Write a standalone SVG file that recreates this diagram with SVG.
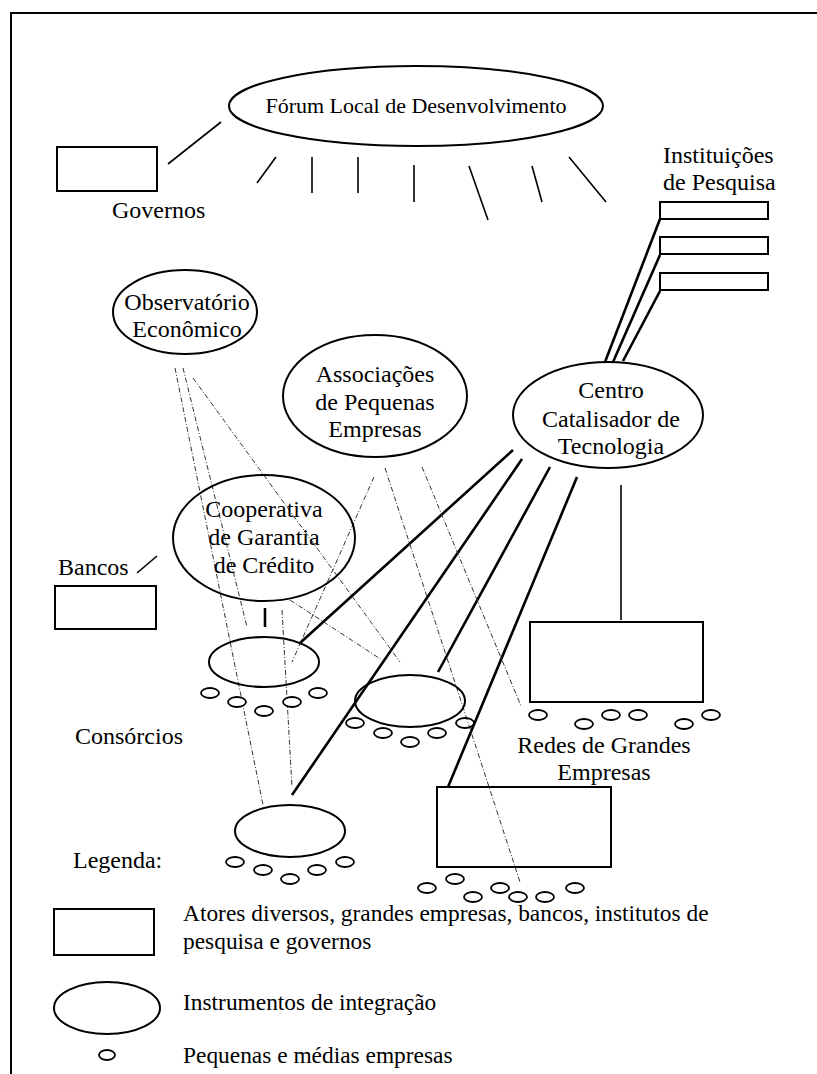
<svg xmlns="http://www.w3.org/2000/svg" width="817" height="1074" viewBox="0 0 817 1074" font-family="'Liberation Serif', Tinos, 'Times New Roman', 'DejaVu Serif', serif">
  <style>
    text { font-family: "Liberation Serif", Tinos, "Times New Roman", "DejaVu Serif", serif; font-size: 24px; fill: #000; }
    .mid { text-anchor: middle; }
    .legend { font-size: 23.4px; }
    .shape { fill: #fff; stroke: #000; stroke-width: 2; }
    .sme { fill: #fff; stroke: #000; stroke-width: 1.8; }
    .thin { stroke: #000; stroke-width: 1.6; fill: none; }
    .thick { stroke: #000; stroke-width: 2.6; fill: none; }
    .dash { stroke: #333; stroke-width: 1; fill: none; stroke-dasharray: 5 2 1 2; }
  </style>

  <rect x="0" y="0" width="817" height="1074" fill="#fff"/>
  <!-- page frame -->
  <path d="M11 1074 V13 H817" fill="none" stroke="#000" stroke-width="2"/>

  <!-- connectors -->
  <g id="connectors">
    <!-- forum spokes -->
    <line class="thin" x1="221" y1="122" x2="168" y2="164"/>
    <line class="thin" x1="276" y1="157" x2="257" y2="183"/>
    <line class="thin" x1="312" y1="157" x2="312" y2="193"/>
    <line class="thin" x1="358" y1="157" x2="358" y2="193"/>
    <line class="thin" x1="414" y1="165" x2="414" y2="202"/>
    <line class="thin" x1="469" y1="166" x2="488" y2="220"/>
    <line class="thin" x1="532" y1="166" x2="542" y2="202"/>
    <line class="thin" x1="569" y1="157" x2="606" y2="202"/>
    <!-- research institutions to technology centre -->
    <line class="thick" x1="660" y1="219" x2="605" y2="362"/>
    <line class="thick" x1="660" y1="255" x2="613" y2="362"/>
    <line class="thick" x1="660" y1="291" x2="623" y2="361"/>
    <!-- technology centre links -->
    <line class="thick" x1="513" y1="450" x2="300" y2="643"/>
    <line class="thick" x1="522" y1="459" x2="292" y2="795"/>
    <line class="thick" x1="550" y1="467" x2="438" y2="672"/>
    <line class="thick" x1="577" y1="477" x2="448" y2="787"/>
    <line class="thin" x1="621" y1="485" x2="621" y2="620"/>
    <!-- banks and cooperative -->
    <line class="thin" x1="137" y1="573" x2="157" y2="556"/>
    <line class="thick" x1="265" y1="608" x2="265" y2="627"/>
    <!-- observatory / association / cooperative dashed links -->
    <line class="dash" x1="175" y1="368" x2="263" y2="805"/>
    <line class="dash" x1="183" y1="368" x2="247" y2="627"/>
    <line class="dash" x1="193" y1="378" x2="400" y2="662"/>
    <line class="dash" x1="282" y1="610" x2="292" y2="787"/>
    <line class="dash" x1="290" y1="600" x2="382" y2="660"/>
    <line class="dash" x1="374" y1="477" x2="292" y2="662"/>
    <line class="dash" x1="385" y1="468" x2="520" y2="882"/>
    <line class="dash" x1="422" y1="467" x2="521" y2="706"/>
  </g>

  <g id="forum">
    <ellipse class="shape" cx="416" cy="106" rx="187" ry="40"/>
    <text class="mid" x="416" y="113" style="font-size:22px">Fórum Local de Desenvolvimento</text>
  </g>

  <g id="governos">
    <rect class="shape" x="57" y="147" width="100" height="44"/>
    <text x="112" y="218">Governos</text>
  </g>

  <g id="instituicoes">
    <text x="663" y="163">Instituições</text>
    <text x="663" y="190">de Pesquisa</text>
    <rect class="shape" x="660" y="202" width="108" height="17"/>
    <rect class="shape" x="660" y="237" width="108" height="17"/>
    <rect class="shape" x="660" y="273" width="108" height="17"/>
  </g>

  <g id="observatorio">
    <ellipse class="shape" cx="185" cy="312" rx="72" ry="42" fill-opacity="0"/>
    <text class="mid" x="187" y="310">Observatório</text>
    <text class="mid" x="187" y="337">Econômico</text>
  </g>

  <g id="associacoes">
    <ellipse class="shape" cx="375" cy="396" rx="92" ry="61" fill-opacity="0"/>
    <text class="mid" x="375" y="382">Associações</text>
    <text class="mid" x="375" y="410">de Pequenas</text>
    <text class="mid" x="375" y="437">Empresas</text>
  </g>

  <g id="centro">
    <ellipse class="shape" cx="608" cy="415" rx="95" ry="53" fill-opacity="0"/>
    <text class="mid" x="611" y="398">Centro</text>
    <text class="mid" x="611" y="427">Catalisador de</text>
    <text class="mid" x="611" y="454">Tecnologia</text>
  </g>

  <g id="cooperativa">
    <ellipse class="shape" cx="264" cy="538" rx="91" ry="63" fill-opacity="0"/>
    <text class="mid" x="264" y="517">Cooperativa</text>
    <text class="mid" x="264" y="545">de Garantia</text>
    <text class="mid" x="264" y="573">de Crédito</text>
  </g>

  <g id="bancos">
    <text x="58" y="575">Bancos</text>
    <rect class="shape" x="55" y="586" width="101" height="43"/>
  </g>

  <g id="consorcio-1">
    <ellipse class="shape" cx="264" cy="662" rx="55" ry="25" fill-opacity="0"/>
    <ellipse class="sme" cx="210" cy="693" rx="9" ry="5"/>
    <ellipse class="sme" cx="237" cy="702" rx="9" ry="5"/>
    <ellipse class="sme" cx="264" cy="711" rx="9" ry="5"/>
    <ellipse class="sme" cx="292" cy="702" rx="9" ry="5"/>
    <ellipse class="sme" cx="318" cy="693" rx="9" ry="5"/>
  </g>

  <g id="consorcio-2">
    <ellipse class="shape" cx="410" cy="701" rx="55" ry="26" fill-opacity="0"/>
    <ellipse class="sme" cx="355" cy="723" rx="9" ry="5"/>
    <ellipse class="sme" cx="383" cy="733" rx="9" ry="5"/>
    <ellipse class="sme" cx="410" cy="742" rx="9" ry="5"/>
    <ellipse class="sme" cx="437" cy="733" rx="9" ry="5"/>
    <ellipse class="sme" cx="465" cy="723" rx="9" ry="5" fill-opacity="0"/>
  </g>

  <g id="consorcio-3">
    <ellipse class="shape" cx="290" cy="831" rx="55" ry="26"/>
    <ellipse class="sme" cx="235" cy="862" rx="9" ry="5"/>
    <ellipse class="sme" cx="263" cy="870" rx="9" ry="5"/>
    <ellipse class="sme" cx="290" cy="879" rx="9" ry="5"/>
    <ellipse class="sme" cx="317" cy="870" rx="9" ry="5"/>
    <ellipse class="sme" cx="345" cy="862" rx="9" ry="5"/>
  </g>

  <g id="consorcios-label">
    <text x="75" y="744">Consórcios</text>
  </g>

  <g id="redes">
    <rect class="shape" x="530" y="622" width="173" height="80"/>
    <ellipse class="sme" cx="538" cy="715" rx="9" ry="5"/>
    <ellipse class="sme" cx="584" cy="724" rx="9" ry="5"/>
    <ellipse class="sme" cx="611" cy="715" rx="9" ry="5"/>
    <ellipse class="sme" cx="638" cy="715" rx="9" ry="5"/>
    <ellipse class="sme" cx="684" cy="724" rx="9" ry="5"/>
    <ellipse class="sme" cx="711" cy="715" rx="9" ry="5"/>
    <text class="mid" x="604" y="753">Redes de Grandes</text>
    <text class="mid" x="604" y="780">Empresas</text>
  </g>

  <g id="grande-empresa">
    <rect class="shape" x="437" y="787" width="174" height="80" fill-opacity="0"/>
    <ellipse class="sme" cx="427" cy="888" rx="9" ry="5"/>
    <ellipse class="sme" cx="455" cy="879" rx="9" ry="5"/>
    <ellipse class="sme" cx="473" cy="897" rx="9" ry="5"/>
    <ellipse class="sme" cx="500" cy="888" rx="9" ry="5"/>
    <ellipse class="sme" cx="518" cy="897" rx="9" ry="5"/>
    <ellipse class="sme" cx="545" cy="897" rx="9" ry="5"/>
    <ellipse class="sme" cx="575" cy="888" rx="9" ry="5"/>
  </g>

  <g id="legenda">
    <text x="73" y="868">Legenda:</text>
    <rect class="shape" x="54" y="909" width="100" height="46"/>
    <text class="legend" x="183" y="921">Atores diversos, grandes empresas, bancos, institutos de</text>
    <text class="legend" x="183" y="949">pesquisa e governos</text>
    <ellipse class="shape" cx="107" cy="1008" rx="53" ry="26"/>
    <text class="legend" x="183" y="1010">Instrumentos de integração</text>
    <ellipse class="sme" cx="107" cy="1055" rx="8" ry="5"/>
    <text class="legend" x="183" y="1063">Pequenas e médias empresas</text>
  </g>
</svg>
